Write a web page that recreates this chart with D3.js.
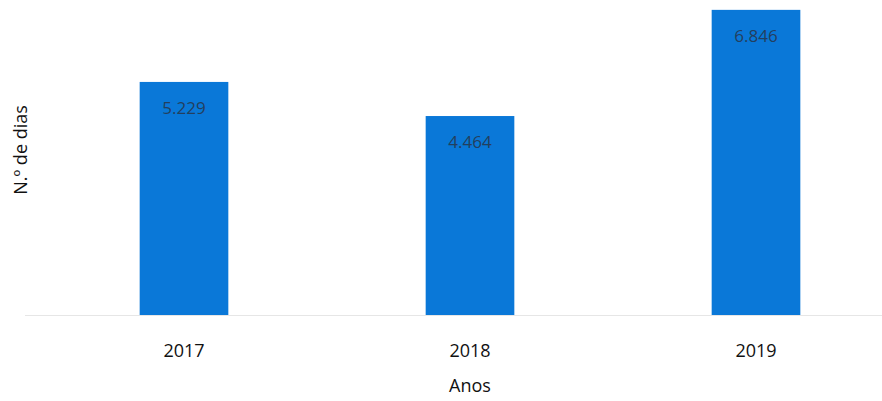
<!DOCTYPE html>
<html>
<head>
<meta charset="utf-8">
<script src="https://cdn.jsdelivr.net/npm/d3@7"></script>
<style>
  body { margin: 0; background: #fff; }
  text { font-family: "Open Sans", "Noto Sans", sans-serif; }
</style>
</head>
<body>
<div id="chart"></div>
<script>
// Data
const years = ['2017', '2018', '2019'];
const days = [5.229, 4.464, 6.846];
const dayLabels = ['5.229', '4.464', '6.846'];

const width = 882, height = 401;

const svg = d3.select('#chart')
  .append('svg')
  .attr('width', width)
  .attr('height', height);

const x = d3.scaleBand()
  .domain(years)
  .range([41, 899])
  .paddingInner(0.69)
  .paddingOuter(0.345);

const y = d3.scaleLinear()
  .domain([0, 7])
  .range([315, 3]);

// baseline
svg.append('line')
  .attr('x1', 25)
  .attr('x2', width)
  .attr('y1', y(0) + 0.5)
  .attr('y2', y(0) + 0.5)
  .attr('stroke', '#e6e6e6')
  .attr('stroke-width', 1);

// bars
svg.selectAll('rect.bar')
  .data(years)
  .enter()
  .append('rect')
  .attr('class', 'bar')
  .attr('x', d => x(d))
  .attr('y', (d, i) => y(days[i]))
  .attr('width', x.bandwidth())
  .attr('height', (d, i) => y(0) - y(days[i]))
  .attr('fill', '#0a78d8');

// value labels
svg.selectAll('text.val')
  .data(years)
  .enter()
  .append('text')
  .attr('class', 'val')
  .attr('x', d => x(d) + x.bandwidth() / 2)
  .attr('y', (d, i) => y(days[i]) + 32)
  .attr('text-anchor', 'middle')
  .style('font-size', '17px')
  .style('fill', '#233f5e')
  .text((d, i) => dayLabels[i]);

// x axis ticks
const xAxis = svg.append('g')
  .attr('transform', `translate(0,${y(0)})`)
  .call(d3.axisBottom(x).tickSize(0).tickPadding(29));
xAxis.select('.domain').remove();
xAxis.selectAll('text')
  .style('font-size', '18px')
  .style('fill', '#111')
  .style('font-family', '"Open Sans", sans-serif');

// axis titles
svg.append('text')
  .attr('x', x('2018') + x.bandwidth() / 2)
  .attr('y', 392)
  .attr('text-anchor', 'middle')
  .style('font-size', '18px')
  .style('fill', '#111')
  .text('Anos');

svg.append('text')
  .attr('transform', 'translate(27,150) rotate(-90)')
  .attr('text-anchor', 'middle')
  .style('font-size', '18px')
  .style('fill', '#111')
  .text('N.º de dias');
</script>
</body>
</html>
